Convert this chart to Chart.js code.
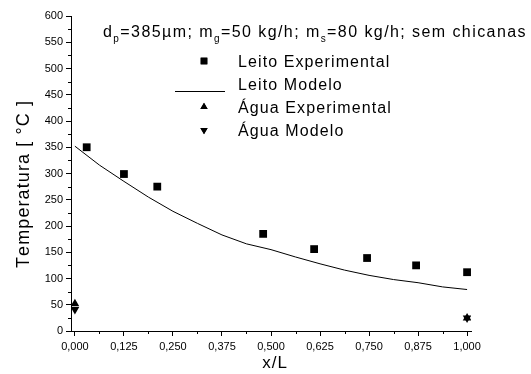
<!DOCTYPE html>
<html lang="pt">
<head>
  <meta charset="UTF-8" />
  <title>Temperatura ao longo do leito</title>
  <script src="https://cdn.jsdelivr.net/npm/chart.js"></script>
  <style>
    body { margin: 0; background: #fff; }
    #wrap { width: 531px; height: 374px; }
  </style>
</head>
<body>
  <div id="wrap"><canvas id="chart" width="531" height="374"></canvas></div>

  <script>
    // dados
    const leitoX = [0.03, 0.125, 0.21, 0.48, 0.61, 0.745, 0.87, 1.0];
    const leitoExp = [350, 299, 275, 185, 156, 139, 125, 112];

    const modeloX = [0, 0.0625, 0.125, 0.1875, 0.25, 0.3125, 0.375, 0.4375, 0.5,
                     0.5625, 0.625, 0.6875, 0.75, 0.8125, 0.875, 0.9375, 1.0];
    const leitoModelo = [352, 316, 285, 255, 228, 205, 183, 166, 155,
                         141, 128, 116, 106, 98, 92, 84, 79];

    const aguaX = [0, 1.0];
    const aguaExp = [52, 25];
    const aguaModelo = [41, 25];

    const yTicks = [0, 50, 100, 150, 200, 250, 300, 350, 400, 450, 500, 550, 600];
    const xTicks = ['0,000', '0,125', '0,250', '0,375', '0,500', '0,625', '0,750', '0,875', '1,000'];

    const FONT = "'Liberation Sans', Arial, sans-serif";

    function pts(xs, ys) {
      return xs.map((x, i) => ({ x: x, y: ys[i] }));
    }

    // texto com espaçamento entre letras (o original é bem espaçado)
    function spacedWidth(c, t, sp) {
      let w = 0;
      for (const ch of t) w += c.measureText(ch).width + sp;
      return w;
    }
    function drawSpaced(c, t, x, y, sp) {
      for (const ch of t) {
        c.fillText(ch, x, y);
        x += c.measureText(ch).width + sp;
      }
      return x;
    }

    // ticks menores desenhados à parte (mais curtos)
    const minorTicks = {
      id: 'minorTicks',
      afterDraw(chart) {
        const c = chart.ctx, xs = chart.scales.x, ys = chart.scales.y;
        c.save();
        c.strokeStyle = '#000';
        c.lineWidth = 1;
        c.beginPath();
        for (let i = 0; i < yTicks.length - 1; i++) {
          const py = Math.round(ys.getPixelForValue((yTicks[i] + yTicks[i + 1]) / 2)) + 0.5;
          c.moveTo(ys.right - 3, py); c.lineTo(ys.right, py);
        }
        for (let i = 0; i < xTicks.length - 1; i++) {
          const px = Math.round(xs.getPixelForValue((i + 0.5) * 0.125)) + 0.5;
          c.moveTo(px, xs.top); c.lineTo(px, xs.top + 3);
        }
        c.stroke();
        c.restore();
      }
    };

    // títulos dos eixos, linha de condições e legenda
    const texts = {
      id: 'texts',
      afterDraw(chart) {
        const c = chart.ctx;
        c.save();
        c.fillStyle = '#000';
        c.textBaseline = 'alphabetic';

        // eixo y
        c.font = '18px ' + FONT;
        const yt = 'Temperatura [ \u00b0C ]';
        const yw = spacedWidth(c, yt, 1.1);
        c.save();
        c.translate(29, 184 + yw / 2);
        c.rotate(-Math.PI / 2);
        drawSpaced(c, yt, 0, 0, 1.1);
        c.restore();

        // eixo x
        c.font = '17px ' + FONT;
        const xw = spacedWidth(c, 'x/L', 1);
        drawSpaced(c, 'x/L', 275 - xw / 2, 368, 1);

        // d_p=385µm; m_g=50 kg/h; m_s=80 kg/h; sem chicanas
        const runs = [['d', 0], ['p', 1], ['=385\u00b5m; m', 0], ['g', 1], ['=50 kg/h; m', 0], ['s', 1], ['=80 kg/h; sem chicanas', 0]];
        let natural = 0, n = 0;
        runs.forEach(([t, sub]) => {
          c.font = (sub ? '10px ' : '16px ') + FONT;
          natural += c.measureText(t).width;
          n += t.length;
        });
        const sp = (424 - natural) / n;
        let x = 103;
        const base = 37;
        runs.forEach(([t, sub]) => {
          c.font = (sub ? '10px ' : '16px ') + FONT;
          x = drawSpaced(c, t, x, sub ? base + 5 : base, sp);
        });

        // legenda
        c.font = '16px ' + FONT;
        const rows = [
          { ds: 0, y: 61, text: 'Leito Experimental' },
          { ds: 1, y: 84, text: 'Leito Modelo' },
          { ds: 2, y: 107, text: '\u00c1gua Experimental' },
          { ds: 3, y: 130, text: '\u00c1gua Modelo' }
        ];
        rows.forEach(r => {
          const d = chart.data.datasets[r.ds];
          if (d.showLine) {
            c.strokeStyle = '#000';
            c.lineWidth = 1;
            c.beginPath();
            c.moveTo(175, r.y + 7.5); c.lineTo(225, r.y + 7.5);
            c.stroke();
          } else {
            Chart.helpers.drawPoint(c, {
              pointStyle: d.pointStyle, radius: d.pointRadius - 0.8, rotation: d.rotation || 0, borderWidth: 0
            }, 204, r.y);
            c.fill();
          }
          drawSpaced(c, r.text, 238, r.y + 6, 1.1);
        });
        c.restore();
      }
    };

    new Chart(document.getElementById('chart'), {
      type: 'scatter',
      data: {
        datasets: [
          {
            label: 'Leito Experimental',
            data: pts(leitoX, leitoExp),
            pointStyle: 'rect', pointRadius: 5.5,
            backgroundColor: '#000', borderColor: '#000', borderWidth: 0
          },
          {
            label: 'Leito Modelo',
            data: pts(modeloX, leitoModelo),
            showLine: true, pointRadius: 0, borderColor: '#000', borderWidth: 1, tension: 0
          },
          {
            label: 'Água Experimental',
            data: pts(aguaX, aguaExp),
            pointStyle: 'triangle', pointRadius: 5,
            backgroundColor: '#000', borderColor: '#000', borderWidth: 0
          },
          {
            label: 'Água Modelo',
            data: pts(aguaX, aguaModelo),
            pointStyle: 'triangle', rotation: 180, pointRotation: 180, pointRadius: 5,
            backgroundColor: '#000', borderColor: '#000', borderWidth: 0
          }
        ]
      },
      options: {
        responsive: false,
        animation: false,
        layout: { padding: { top: 16, right: 60, left: 0, bottom: 0 } },
        plugins: { legend: { display: false }, tooltip: { enabled: false } },
        scales: {
          x: {
            type: 'linear',
            min: -0.01, max: 1.01,
            afterBuildTicks: s => { s.ticks = xTicks.map((t, i) => ({ value: i * 0.125 })); },
            afterFit: s => { s.height = 43; },
            ticks: {
              callback: (v, i) => xTicks[i],
              font: { family: FONT, size: 11 }, color: '#000', padding: 4, maxRotation: 0
            },
            grid: { drawOnChartArea: false, tickLength: 5, tickColor: '#000' },
            border: { color: '#000', width: 1 }
          },
          y: {
            min: 0, max: 600,
            afterBuildTicks: s => { s.ticks = yTicks.map(v => ({ value: v })); },
            afterFit: s => { s.width = 71; },
            ticks: {
              font: { family: FONT, size: 11 }, color: '#000', padding: 3
            },
            grid: { drawOnChartArea: false, tickLength: 5, tickColor: '#000' },
            border: { color: '#000', width: 1 }
          }
        }
      },
      plugins: [minorTicks, texts]
    });
  </script>
</body>
</html>
